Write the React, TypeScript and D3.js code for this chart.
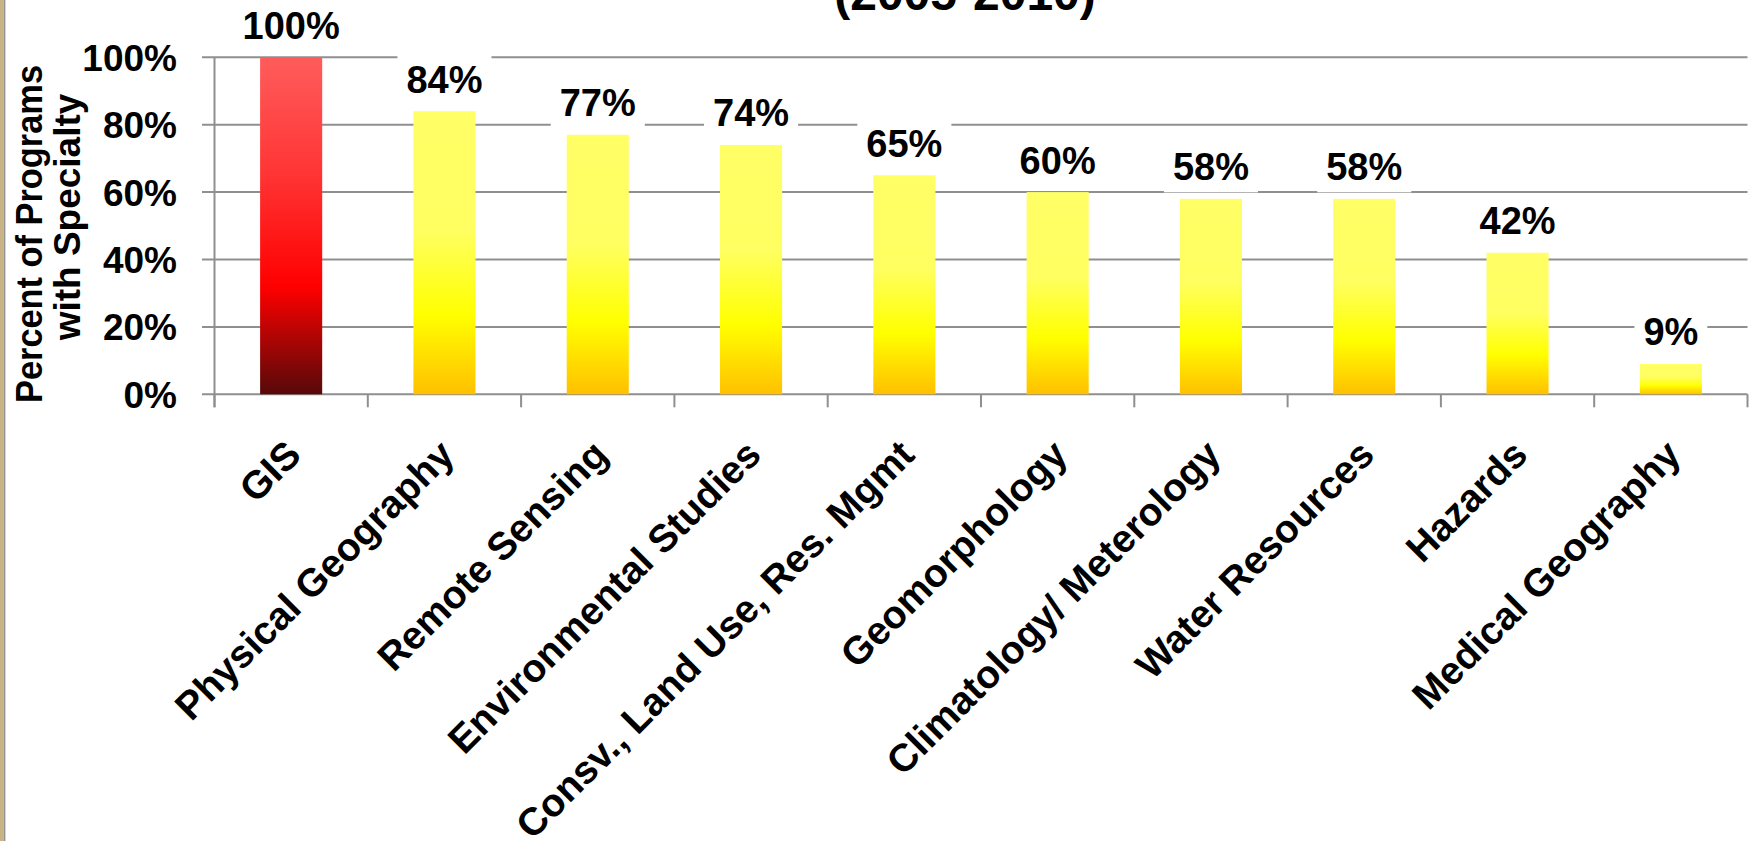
import React, { useEffect, useRef } from "react";
import * as d3 from "d3";

// Share of programs offering each specialty
const categories = [
  "GIS",
  "Physical Geography",
  "Remote Sensing",
  "Environmental Studies",
  "Consv., Land Use, Res. Mgmt",
  "Geomorphology",
  "Climatology/ Meterology",
  "Water Resources",
  "Hazards",
  "Medical Geography",
];
const values = [1.0, 0.84, 0.77, 0.74, 0.65, 0.6, 0.58, 0.58, 0.42, 0.09];
const yTicks = [0, 0.2, 0.4, 0.6, 0.8, 1.0];
const highlighted = ["GIS"];
const titleText = "(2005-2010)";
const yTitleLines = ["Percent of Programs", "with Specialty"];

const W = 1750;
const H = 841;
const FONT = "'Liberation Sans', Arial, Helvetica, sans-serif";
const GRID = "#8f8f8f";

export default function App() {
  const ref = useRef<SVGSVGElement | null>(null);

  useEffect(() => {
    const svg = d3.select(ref.current);
    svg.selectAll("*").remove();

    const x = d3
      .scaleBand<string>()
      .domain(categories)
      .range([214.5, 1747.5])
      .paddingInner(0.595)
      .paddingOuter(0.2975);
    const y = d3.scaleLinear().domain([0, 1]).range([394.3, 57.3]);

    const defs = svg.append("defs");
    const red = defs
      .append("linearGradient")
      .attr("id", "gradRed")
      .attr("x1", 0)
      .attr("y1", 0)
      .attr("x2", 0)
      .attr("y2", 1);
    [
      [0, "#ff5c5c"],
      [0.35, "#ff3434"],
      [0.68, "#ff0000"],
      [1, "#560909"],
    ].forEach(([o, c]) =>
      red.append("stop").attr("offset", o as number).attr("stop-color", c as string)
    );
    const yel = defs
      .append("linearGradient")
      .attr("id", "gradYellow")
      .attr("x1", 0)
      .attr("y1", 0)
      .attr("x2", 0)
      .attr("y2", 1);
    [
      [0, "#ffff66"],
      [0.42, "#ffff62"],
      [0.72, "#ffff00"],
      [1, "#ffc000"],
    ].forEach(([o, c]) =>
      yel.append("stop").attr("offset", o as number).attr("stop-color", c as string)
    );

    // page background and left frame edge
    svg.append("rect").attr("width", W).attr("height", H).attr("fill", "#ffffff");
    svg.append("rect").attr("x", 0).attr("y", 0).attr("width", 3.6).attr("height", H).attr("fill", "#c9b283");
    svg.append("rect").attr("x", 3.6).attr("y", 0).attr("width", 1.8).attr("height", H).attr("fill", "#939393");

    // title (only its lower part falls inside the frame)
    svg
      .append("text")
      .attr("x", 965)
      .attr("y", 10)
      .attr("text-anchor", "middle")
      .attr("font-family", FONT)
      .attr("font-weight", "bold")
      .attr("font-size", 48)
      .attr("fill", "#000")
      .text(titleText);

    // gridlines
    const [rx0, rx1] = x.range();
    svg
      .append("g")
      .selectAll("line")
      .data(yTicks)
      .join("line")
      .attr("x1", 202)
      .attr("x2", rx1)
      .attr("y1", (d) => y(d))
      .attr("y2", (d) => y(d))
      .attr("stroke", GRID)
      .attr("stroke-width", 2);

    // value axis line
    svg
      .append("line")
      .attr("x1", rx0)
      .attr("x2", rx0)
      .attr("y1", y(1))
      .attr("y2", y(0) + 13)
      .attr("stroke", GRID)
      .attr("stroke-width", 2);

    // category boundary ticks
    const bounds = categories.map((c) => (x(c) as number) - (x.step() - x.bandwidth()) / 2);
    bounds.push(rx1);
    svg
      .append("g")
      .selectAll("line")
      .data(bounds)
      .join("line")
      .attr("x1", (d) => d)
      .attr("x2", (d) => d)
      .attr("y1", y(0))
      .attr("y2", y(0) + 13)
      .attr("stroke", GRID)
      .attr("stroke-width", 2);

    // y tick labels
    svg
      .append("g")
      .selectAll("text")
      .data(yTicks)
      .join("text")
      .attr("x", 177)
      .attr("y", (d) => y(d) + 13.5)
      .attr("text-anchor", "end")
      .attr("font-family", FONT)
      .attr("font-weight", "bold")
      .attr("font-size", 37)
      .attr("fill", "#000")
      .text((d) => d3.format(".0%")(d));

    // y axis title
    const yTitle = svg
      .append("g")
      .attr("font-family", FONT)
      .attr("font-weight", "bold")
      .attr("font-size", 37)
      .attr("fill", "#000")
      .attr("text-anchor", "middle");
    yTitle
      .append("text")
      .attr("transform", "translate(41.5,234) rotate(-90)")
      .attr("textLength", 338)
      .attr("lengthAdjust", "spacingAndGlyphs")
      .text(yTitleLines[0]);
    yTitle
      .append("text")
      .attr("transform", "translate(79.5,217) rotate(-90)")
      .text(yTitleLines[1]);

    // bars
    svg
      .append("g")
      .selectAll("rect")
      .data(categories)
      .join("rect")
      .attr("x", (d) => x(d) as number)
      .attr("width", x.bandwidth())
      .attr("y", (_, i) => y(values[i]))
      .attr("height", (_, i) => y(0) - y(values[i]))
      .attr("fill", (d) => (highlighted.includes(d) ? "url(#gradRed)" : "url(#gradYellow)"));

    // value labels on white boxes
    const labels = svg.append("g");
    categories.forEach((c, i) => {
      const cx = (x(c) as number) + x.bandwidth() / 2;
      const base = y(values[i]) - 18.5;
      const g = labels.append("g");
      const box = g.append("rect").attr("fill", "#ffffff");
      const t = g
        .append("text")
        .attr("x", cx)
        .attr("y", base)
        .attr("text-anchor", "middle")
        .attr("font-family", FONT)
        .attr("font-weight", "bold")
        .attr("font-size", 38)
        .attr("fill", "#000")
        .text(d3.format(".0%")(values[i]));
      const w = (t.node() as SVGTextElement).getComputedTextLength();
      box
        .attr("x", cx - w / 2 - 9)
        .attr("width", w + 18)
        .attr("y", base - 38)
        .attr("height", 50);
    });

    // category labels
    svg
      .append("g")
      .selectAll("text")
      .data(categories)
      .join("text")
      .attr("transform", (d) => {
        const cx = (x(d) as number) + x.bandwidth() / 2;
        return `translate(${cx + 12},457) rotate(-45)`;
      })
      .attr("text-anchor", "end")
      .attr("font-family", FONT)
      .attr("font-weight", "bold")
      .attr("font-size", 39)
      .attr("fill", "#000")
      .text((d) => d);
  }, []);

  return (
    <svg
      ref={ref}
      width={W}
      height={H}
      style={{ position: "absolute", left: 0, top: 0, display: "block" }}
    />
  );
}
